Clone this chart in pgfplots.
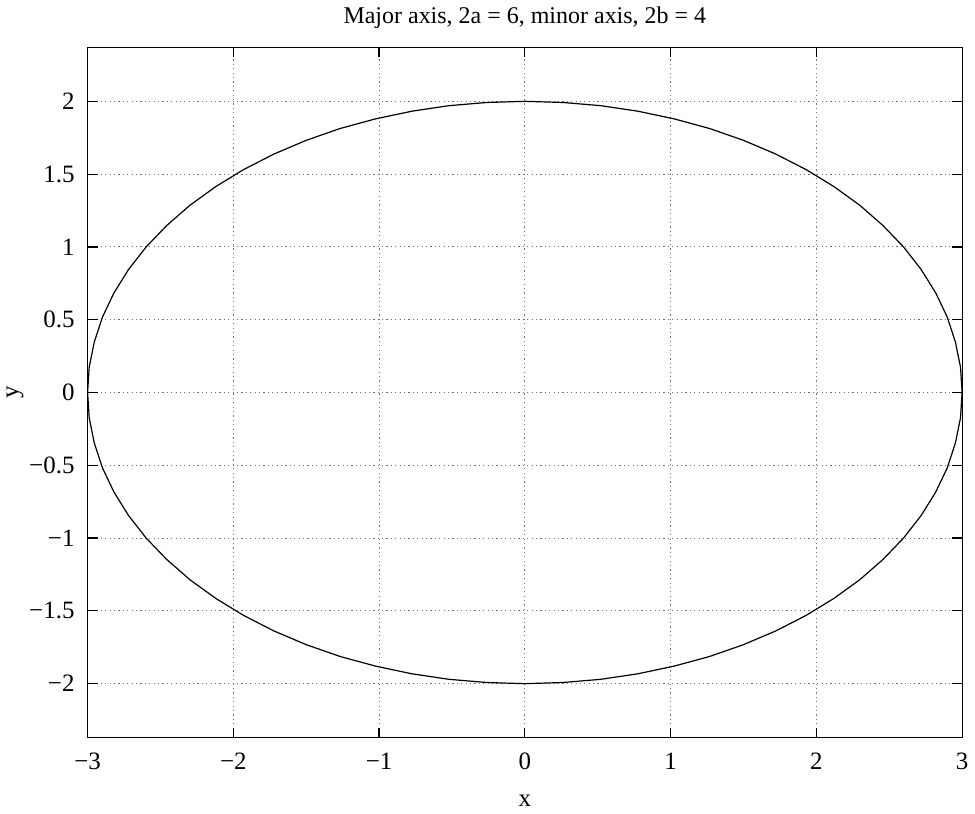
\documentclass[border=0pt]{standalone}
\usepackage{pgfplots}
\pgfplotsset{compat=1.18}
\usepackage{fontspec}
\setmainfont{Liberation Serif}

\begin{document}
\begin{tikzpicture}
\begin{axis}[
  scale only axis,
  width=437.7pt, height=345.4pt,
  xmin=-3, xmax=3, ymin=-2.37, ymax=2.37,
  xtick={-3,-2,-1,0,1,2,3},
  xticklabels={−3,−2,−1,0,1,2,3},
  ytick={-2,-1.5,-1,-0.5,0,0.5,1,1.5,2},
  yticklabels={−2,−1.5,−1,−0.5,0,0.5,1,1.5,2},
  tick align=inside,
  major tick length=5pt,
  tick style={black, line width=0.6pt},
  axis line style={line width=0.6pt},
  grid=major,
  major grid style={black!55, line width=0.5pt, dash pattern=on 0.6pt off 1.6pt},
  ticklabel style={font=\fontsize{12.5}{14}\selectfont},
  xticklabel style={yshift=-4pt},
  yticklabel style={xshift=-3pt},
  title={Major axis, 2a = 6, minor axis, 2b = 4},
  title style={font=\fontsize{12}{14}\selectfont, yshift=0pt},
  xlabel={x}, ylabel={y},
  label style={font=\fontsize{12.5}{14}\selectfont},
  xlabel style={yshift=-6pt},
  ylabel style={yshift=-4pt},
]
\addplot[black, line width=0.6pt] coordinates {
(3.000,0.000) (2.989,0.174) (2.954,0.347) (2.898,0.518) (2.819,0.684)
(2.719,0.845) (2.598,1.000) (2.457,1.147) (2.298,1.286) (2.121,1.414)
(1.928,1.532) (1.721,1.638) (1.500,1.732) (1.268,1.813) (1.026,1.879)
(0.776,1.932) (0.521,1.970) (0.261,1.992) (0.000,2.000)
(-0.261,1.992) (-0.521,1.970) (-0.776,1.932) (-1.026,1.879) (-1.268,1.813)
(-1.500,1.732) (-1.721,1.638) (-1.928,1.532) (-2.121,1.414) (-2.298,1.286)
(-2.457,1.147) (-2.598,1.000) (-2.719,0.845) (-2.819,0.684) (-2.898,0.518)
(-2.954,0.347) (-2.989,0.174) (-3.000,0.000)
(-2.989,-0.174) (-2.954,-0.347) (-2.898,-0.518) (-2.819,-0.684) (-2.719,-0.845)
(-2.598,-1.000) (-2.457,-1.147) (-2.298,-1.286) (-2.121,-1.414) (-1.928,-1.532)
(-1.721,-1.638) (-1.500,-1.732) (-1.268,-1.813) (-1.026,-1.879) (-0.776,-1.932)
(-0.521,-1.970) (-0.261,-1.992) (0.000,-2.000)
(0.261,-1.992) (0.521,-1.970) (0.776,-1.932) (1.026,-1.879) (1.268,-1.813)
(1.500,-1.732) (1.721,-1.638) (1.928,-1.532) (2.121,-1.414) (2.298,-1.286)
(2.457,-1.147) (2.598,-1.000) (2.719,-0.845) (2.819,-0.684) (2.898,-0.518)
(2.954,-0.347) (2.989,-0.174) (3.000,0.000)
};
\end{axis}
\end{tikzpicture}
\end{document}
